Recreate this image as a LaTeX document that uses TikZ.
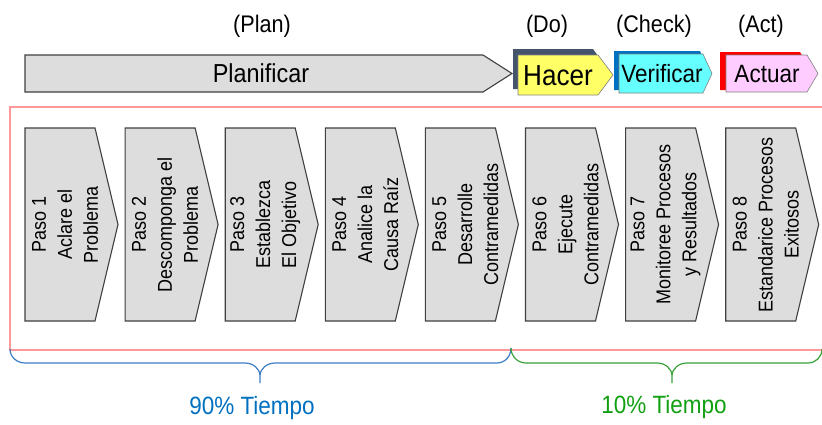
\documentclass[tikz,border=0pt]{standalone}
\usepackage{fontspec}
\setmainfont{Liberation Sans}[FakeStretch=0.9]
\definecolor{boxfill}{HTML}{DDDDDD}
\definecolor{boxline}{HTML}{404040}
\definecolor{frame}{HTML}{FF9999}
\definecolor{hacerfill}{HTML}{FFFF66}
\definecolor{hacershadow}{HTML}{44546A}
\definecolor{verfill}{HTML}{66FFFF}
\definecolor{vershadow}{HTML}{0070C0}
\definecolor{actfill}{HTML}{FFCCFF}
\definecolor{actshadow}{HTML}{FF0000}
\definecolor{bluetxt}{HTML}{0070C0}
\definecolor{bluebrace}{HTML}{3C7DC4}
\definecolor{greentxt}{HTML}{12A012}
\definecolor{greenbrace}{HTML}{3AA23A}
\begin{document}
\begin{tikzpicture}[x=1pt,y=-1pt,
  chevron/.style={fill=boxfill,draw=boxline,line width=1.1pt,line join=miter},
  steptext/.style={rotate=90,align=center,font=\fontsize{20}{26}\selectfont,inner sep=0pt},
  phasetxt/.style={font=\fontsize{24}{28}\selectfont,inner sep=0pt},
  tagbox/.style={draw=gray,line width=0.6pt},
  bracelbl/.style={font=\fontsize{25}{28}\selectfont,inner sep=0pt}]
\useasboundingbox (0,0) rectangle (822,424);
% frame
\draw[frame,line width=1.2pt] (824,107) -- (10,107) -- (10,350) -- (824,350);
% Planificar arrow
\draw[chevron] (25,55) -- (483,55) -- (512,73.5) -- (483,92) -- (25,92) -- cycle;
\node[phasetxt,font=\fontsize{26}{30}\selectfont] (plan) at (261,73.5) {Planificar};
% Hacer
\fill[hacershadow] (513,49) -- (593,49) -- (608,70) -- (593,89) -- (513,89) -- cycle;
\draw[tagbox,fill=hacerfill] (518,55) -- (598,55) -- (613,75) -- (598,95) -- (518,95) -- cycle;
\node[phasetxt,font=\fontsize{29}{32}\selectfont] (hacer) at (558,76) {Hacer};
% Verificar
\fill[vershadow] (614,51) -- (700,51) -- (709,71) -- (700,90) -- (614,90) -- cycle;
\draw[tagbox,fill=verfill] (619,54) -- (703,54) -- (712,73.5) -- (703,93) -- (619,93) -- cycle;
\node[phasetxt,font=\fontsize{25}{28}\selectfont] (verif) at (662,74) {Verificar};
% Actuar
\fill[actshadow] (720,52) -- (800,52) -- (811,71) -- (800,90) -- (720,90) -- cycle;
\draw[tagbox,fill=actfill] (726,55) -- (807,55) -- (818,73.5) -- (807,92) -- (726,92) -- cycle;
\node[phasetxt,font=\fontsize{25}{28}\selectfont] (actuar) at (767,74) {Actuar};
% labels above
\node[phasetxt] (lplan) at (262,26) {(Plan)};
\node[phasetxt] (ldo) at (547,26) {(Do)};
\node[phasetxt] (lcheck) at (654,26) {(Check)};
\node[phasetxt] (lact) at (761,26) {(Act)};
% steps
\foreach \i/\t in {0/{Paso 1\\Aclare el\\Problema},
                   1/{Paso 2\\Descomponga el\\Problema},
                   2/{Paso 3\\Establezca\\El Objetivo},
                   3/{Paso 4\\Analice la\\Causa Raíz},
                   4/{Paso 5\\Desarrolle\\Contramedidas},
                   5/{Paso 6\\Ejecute\\Contramedidas},
                   6/{Paso 7\\Monitoree Procesos\\y Resultados},
                   7/{Paso 8\\Estandarice Procesos\\Exitosos}} {
  \pgfmathsetmacro{\L}{25+100.1*\i}
  \draw[chevron] (\L,128) -- (\L+70,128) -- (\L+93,224.5) -- (\L+70,321) -- (\L,321) -- cycle;
  \node[steptext] (s\i) at (\L+40,224.5) {\t};
}
% braces
\draw[bluebrace,line width=1.2pt]
  (10,349) to[out=-90,in=180] (25,363) -- (245,363) to[out=0,in=90] (260,376) -- (260,383)
  (260,376) to[out=90,in=180] (275,363) -- (497,363) to[out=0,in=-90] (511,348);
\draw[greenbrace,line width=1.2pt] (511,348) to[out=-90,in=180] (526,363) -- (657,363)
  to[out=0,in=90] (672,376) -- (672,383)
  (672,376) to[out=90,in=180] (687,363) -- (808,363) to[out=0,in=-90] (822,349);
\node[bracelbl,text=bluetxt] (t90) at (252,408) {90\% Tiempo};
\node[bracelbl,text=greentxt] (t10) at (664,407) {10\% Tiempo};
\end{tikzpicture}
\end{document}
